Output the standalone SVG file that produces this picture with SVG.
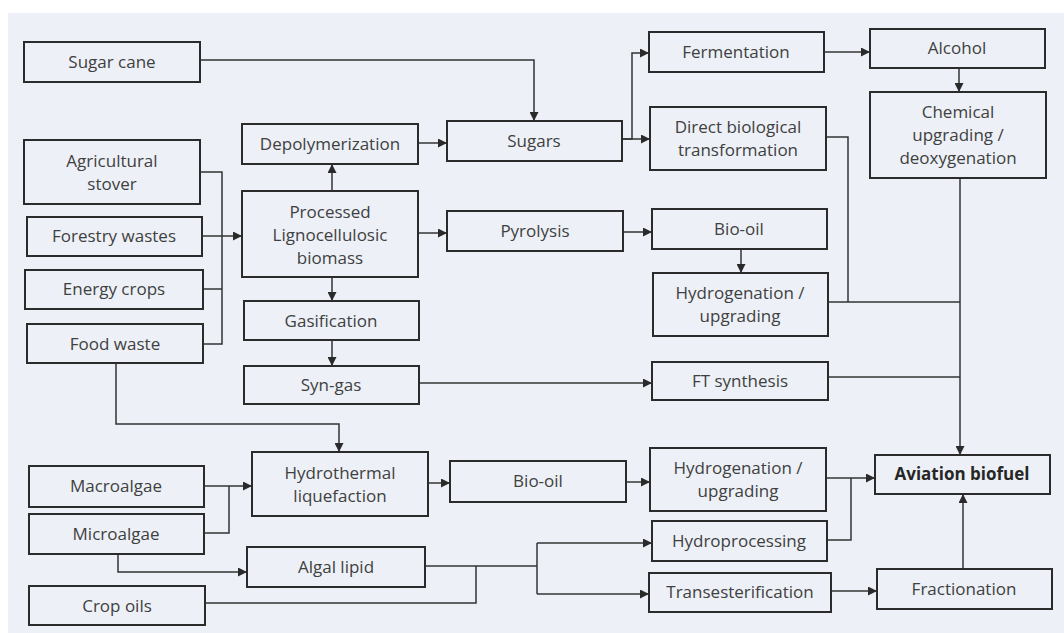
<svg xmlns="http://www.w3.org/2000/svg" width="1064" height="633" viewBox="0 0 1064 633">
<defs>
<marker id="ah" viewBox="0 0 10 10" refX="10" refY="5" markerWidth="10" markerHeight="9" orient="auto" markerUnits="userSpaceOnUse">
<path d="M0,0 L10,5 L0,10 z" fill="#2a2a2a"/>
</marker>
<style>
.box{fill:none;stroke:#2b2b2b;stroke-width:2}
.t{font-family:"Open Sans","Liberation Sans",sans-serif;font-size:17px;fill:#404040;text-anchor:middle}
.b{font-weight:bold;fill:#262626}
.c{fill:none;stroke:#333;stroke-width:1.5}
.a{marker-end:url(#ah)}
</style>
</defs>
<rect x="0" y="0" width="1064" height="633" fill="#ffffff"/>
<rect x="8" y="13" width="1056" height="620" fill="#edf1f7"/>

<g id="connectors">
<path class="c a" d="M200,60 H534 V121"/>
<path class="c a" d="M418,143 H447"/>
<path class="c a" d="M622,139 H632 V53 H649"/>
<path class="c a" d="M622,139 H650"/>
<path class="c a" d="M824,52 H870"/>
<path class="c a" d="M959,68 V92"/>
<path class="c a" d="M960,178 V455"/>
<path class="c" d="M826,137 H848 V302"/>
<path class="c" d="M828,302 H960"/>
<path class="c" d="M828,377 H960"/>
<path class="c" d="M200,172 H222 V344 H203"/>
<path class="c" d="M203,289 H222"/>
<path class="c a" d="M202,236 H242"/>
<path class="c a" d="M332,191 V164"/>
<path class="c a" d="M418,233 H447"/>
<path class="c a" d="M332,277 V301"/>
<path class="c a" d="M332,340 V366"/>
<path class="c a" d="M623,232 H652"/>
<path class="c a" d="M741,249 V273"/>
<path class="c a" d="M419,383 H652"/>
<path class="c a" d="M116,363 V424 H339 V452"/>
<path class="c a" d="M204,486 H252"/>
<path class="c" d="M204,533 H229 V486"/>
<path class="c a" d="M118,554 V572 H247"/>
<path class="c a" d="M428,483 H450"/>
<path class="c a" d="M626,482 H650"/>
<path class="c a" d="M826,478 H875"/>
<path class="c" d="M827,540 H851 V478"/>
<path class="c" d="M425,566 H537"/>
<path class="c" d="M537,543 V594"/>
<path class="c a" d="M537,543 H652"/>
<path class="c a" d="M537,594 H649"/>
<path class="c" d="M205,603 H476 V566"/>
<path class="c a" d="M831,591 H877"/>
<path class="c a" d="M963,569 V494"/>
</g>

<g id="sugar-cane"><rect class="box" x="24" y="42" width="176" height="40"/><text class="t" x="112" y="68">Sugar cane</text></g>
<g id="agricultural-stover"><rect class="box" x="24" y="140" width="176" height="64"/><text class="t" x="112" y="167">Agricultural</text><text class="t" x="112" y="190">stover</text></g>
<g id="forestry-wastes"><rect class="box" x="27" y="217" width="175" height="39"/><text class="t" x="114" y="242">Forestry wastes</text></g>
<g id="energy-crops"><rect class="box" x="25" y="270" width="178" height="39"/><text class="t" x="114" y="295">Energy crops</text></g>
<g id="food-waste"><rect class="box" x="27" y="324" width="176" height="39"/><text class="t" x="115" y="350">Food waste</text></g>
<g id="depolymerization"><rect class="box" x="242" y="124" width="176" height="40"/><text class="t" x="330" y="150">Depolymerization</text></g>
<g id="processed-lignocellulosic-biomass"><rect class="box" x="242" y="191" width="176" height="86"/><text class="t" x="330" y="218">Processed</text><text class="t" x="330" y="241">Lignocellulosic</text><text class="t" x="330" y="264">biomass</text></g>
<g id="gasification"><rect class="box" x="244" y="301" width="175" height="39"/><text class="t" x="331" y="327">Gasification</text></g>
<g id="syn-gas"><rect class="box" x="244" y="366" width="175" height="38"/><text class="t" x="331" y="391">Syn-gas</text></g>
<g id="sugars"><rect class="box" x="447" y="121" width="175" height="40"/><text class="t" x="534" y="147">Sugars</text></g>
<g id="pyrolysis"><rect class="box" x="447" y="211" width="176" height="40"/><text class="t" x="535" y="237">Pyrolysis</text></g>
<g id="fermentation"><rect class="box" x="649" y="32" width="175" height="40"/><text class="t" x="736" y="58">Fermentation</text></g>
<g id="direct-biological-transformation"><rect class="box" x="650" y="107" width="176" height="63"/><text class="t" x="738" y="133">Direct biological</text><text class="t" x="738" y="156">transformation</text></g>
<g id="bio-oil-1"><rect class="box" x="652" y="209" width="175" height="40"/><text class="t" x="739" y="235">Bio-oil</text></g>
<g id="hydrogenation-upgrading-1"><rect class="box" x="653" y="273" width="175" height="63"/><text class="t" x="740" y="299">Hydrogenation /</text><text class="t" x="740" y="322">upgrading</text></g>
<g id="ft-synthesis"><rect class="box" x="652" y="362" width="176" height="38"/><text class="t" x="740" y="387">FT synthesis</text></g>
<g id="alcohol"><rect class="box" x="870" y="29" width="175" height="39"/><text class="t" x="957" y="54">Alcohol</text></g>
<g id="chemical-upgrading"><rect class="box" x="870" y="92" width="176" height="86"/><text class="t" x="958" y="118">Chemical</text><text class="t" x="958" y="141">upgrading /</text><text class="t" x="958" y="164">deoxygenation</text></g>
<g id="macroalgae"><rect class="box" x="29" y="466" width="175" height="41"/><text class="t" x="116" y="492">Macroalgae</text></g>
<g id="microalgae"><rect class="box" x="29" y="514" width="175" height="40"/><text class="t" x="116" y="540">Microalgae</text></g>
<g id="crop-oils"><rect class="box" x="29" y="586" width="176" height="39"/><text class="t" x="117" y="612">Crop oils</text></g>
<g id="hydrothermal-liquefaction"><rect class="box" x="252" y="452" width="176" height="64"/><text class="t" x="340" y="479">Hydrothermal</text><text class="t" x="340" y="502">liquefaction</text></g>
<g id="algal-lipid"><rect class="box" x="247" y="547" width="178" height="40"/><text class="t" x="336" y="573">Algal lipid</text></g>
<g id="bio-oil-2"><rect class="box" x="450" y="461" width="176" height="41"/><text class="t" x="538" y="487">Bio-oil</text></g>
<g id="hydrogenation-upgrading-2"><rect class="box" x="650" y="448" width="176" height="63"/><text class="t" x="738" y="474">Hydrogenation /</text><text class="t" x="738" y="497">upgrading</text></g>
<g id="hydroprocessing"><rect class="box" x="652" y="521" width="175" height="40"/><text class="t" x="739" y="547">Hydroprocessing</text></g>
<g id="transesterification"><rect class="box" x="649" y="573" width="182" height="39"/><text class="t" x="740" y="598">Transesterification</text></g>
<g id="aviation-biofuel"><rect class="box" x="875" y="455" width="175" height="39"/><text class="t b" x="962" y="480">Aviation biofuel</text></g>
<g id="fractionation"><rect class="box" x="877" y="569" width="175" height="40"/><text class="t" x="964" y="595">Fractionation</text></g>
</svg>
